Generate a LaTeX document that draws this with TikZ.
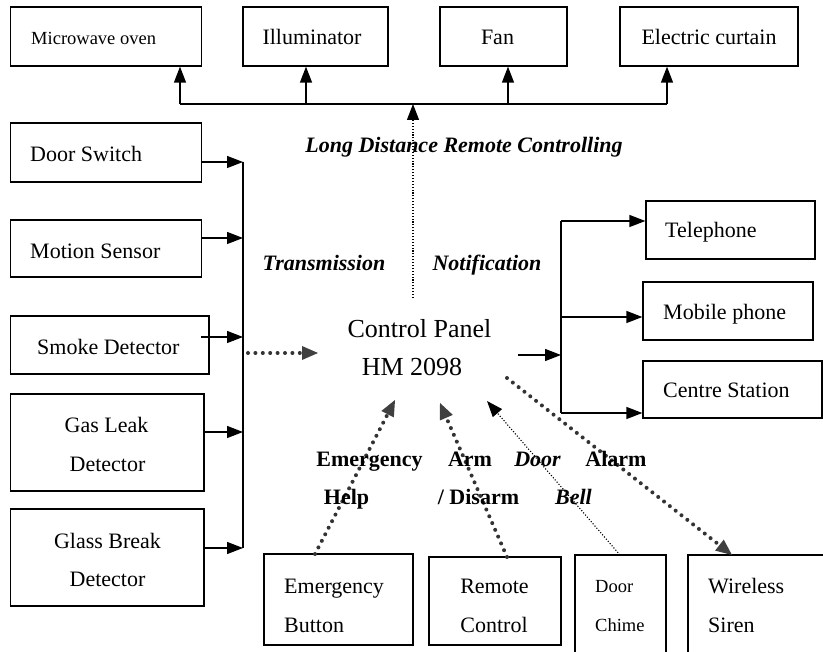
\documentclass[tikz,border=0pt]{standalone}
\usepackage{fontspec}
\setmainfont{Liberation Serif}
\usetikzlibrary{arrows.meta}
\begin{document}
\begin{tikzpicture}[x=1pt,y=-1pt,
  bx/.style={draw, line width=1.3pt, inner sep=0pt},
  t/.style={font=\fontsize{22}{26}\selectfont, inner sep=0pt},
  ts/.style={font=\fontsize{18.5}{22}\selectfont, inner sep=0pt},
  tb/.style={font=\fontsize{22}{26}\selectfont\bfseries, inner sep=0pt},
  tbi/.style={font=\fontsize{22}{26}\selectfont\bfseries\itshape, inner sep=0pt},
  tc/.style={font=\fontsize{26}{30}\selectfont, inner sep=0pt},
  ln/.style={line width=1.3pt},
  arr/.style={line width=1.3pt, -{Triangle[length=16pt,width=12pt]}},
  thindot/.style={line width=1.1pt, dash pattern=on 1.1pt off 1.8pt, -{Triangle[length=16pt,width=12pt]}},
  thickdot/.style={line width=4pt, line cap=round, dash pattern=on 0pt off 7.4pt, draw=black!80,
     -{Triangle[length=16pt,width=14pt,fill=black!75,line width=0pt]}}
]
\clip (0,0) rectangle (823,652);
\fill[white] (0,0) rectangle (823,652);

% ---------- top row ----------
\node[bx, minimum width=191pt, minimum height=59pt] (micro) at (106.2,36.5) {};
\node[bx, minimum width=145pt, minimum height=59pt] (illum) at (315.5,36.5) {};
\node[bx, minimum width=127pt, minimum height=59pt] (fan) at (503.5,36.5) {};
\node[bx, minimum width=178pt, minimum height=59pt] (curt) at (709,36.5) {};
\node[ts, anchor=base west] (tmicro) at (31,44.3) {Microwave oven};
\node[t, anchor=base] (tillum) at (312,44.5) {Illuminator};
\node[t, anchor=base] (tfan) at (497.5,44.5) {Fan};
\node[t, anchor=base] (tcurt) at (709,45) {Electric curtain};

\coordinate (j1) at (180,104);
\coordinate (j2) at (306,104);
\coordinate (j3) at (508,104);
\coordinate (j4) at (667,104);
\coordinate (jc) at (413,104);
\draw[ln] (j1) -- (j4);
\draw[arr] (j1) -- (j1 |- micro.south);
\draw[arr] (j2) -- (j2 |- illum.south);
\draw[arr] (j3) -- (j3 |- fan.south);
\draw[arr] (j4) -- (j4 |- curt.south);
\coordinate (cptop) at (413,298);
\draw[thindot] (cptop) -- (jc);
\node[tbi, anchor=base] (tlong) at (464,152.7) {Long Distance Remote Controlling};

% ---------- left column ----------
\node[bx, minimum width=191pt, minimum height=59pt] (door) at (106.2,152.5) {};
\node[bx, minimum width=191pt, minimum height=57pt] (motion) at (106.2,248.5) {};
\node[bx, minimum width=198.3pt, minimum height=58pt] (smoke) at (109.85,345) {};
\node[bx, minimum width=193.3pt, minimum height=97pt] (gas) at (107.35,442.5) {};
\node[bx, minimum width=193.3pt, minimum height=97pt] (glass) at (107.35,557.5) {};
\node[t, anchor=base west] (tdoor) at (30,161.7) {Door Switch};
\node[t, anchor=base west] (tmotion) at (30,258.3) {Motion Sensor};
\node[t, anchor=base west] (tsmoke) at (37,355) {Smoke Detector};
\node[t, anchor=base] (tgas1) at (106.5,432.7) {Gas Leak};
\node[t, anchor=base] (tgas2) at (107.5,471.7) {Detector};
\node[t, anchor=base] (tglass1) at (107.5,548.3) {Glass Break};
\node[t, anchor=base] (tglass2) at (107.5,586.7) {Detector};

\coordinate (b1) at (243,162);
\coordinate (b2) at (243,238);
\coordinate (b3) at (243,337);
\coordinate (b4) at (243,432);
\coordinate (b5) at (243,548);
\coordinate (s3) at (201,337);
\draw[ln] (b1) -- (b5);
\draw[arr] (door.east |- b1) -- (b1);
\draw[arr] (motion.east |- b2) -- (b2);
\draw[arr] (s3) -- (b3);
\draw[arr] (gas.east |- b4) -- (b4);
\draw[arr] (glass.east |- b5) -- (b5);

\coordinate (dl1) at (248,353);
\coordinate (dl2) at (318,353);
\draw[thickdot] (dl1) -- (dl2);
\node[tbi, anchor=base] (ttrans) at (324,270.7) {Transmission};
\node[tbi, anchor=base] (tnotif) at (487,270.7) {Notification};

% ---------- control panel ----------
\node[tc, anchor=base] (cp1) at (419.5,337.3) {Control Panel};
\node[tc, anchor=base] (cp2) at (412,375.7) {HM 2098};

% ---------- right side ----------
\node[bx, minimum width=169pt, minimum height=58pt] (tel) at (730.5,230) {};
\node[bx, minimum width=170pt, minimum height=58pt] (mob) at (728,311) {};
\node[bx, minimum width=179pt, minimum height=57pt] (cen) at (732.5,389.5) {};
\node[t, anchor=base west] (ttel) at (665,237.7) {Telephone};
\node[t, anchor=base west] (tmob) at (663,319.3) {Mobile phone};
\node[t, anchor=base west] (tcen) at (663,397.3) {Centre Station};

\coordinate (r1) at (561,221);
\coordinate (r2) at (561,317);
\coordinate (r3) at (561,413);
\coordinate (rin) at (561,355);
\coordinate (cpout) at (518,355);
\draw[ln] (r1) -- (r3);
\draw[arr] (r1) -- (tel.west |- r1);
\draw[arr] (r2) -- (mob.west |- r2);
\draw[arr] (r3) -- (cen.west |- r3);
\draw[arr] (cpout) -- (rin);

% ---------- bottom ----------
\node[bx, minimum width=149pt, minimum height=91pt] (emb) at (338.5,599.5) {};
\node[bx, minimum width=132pt, minimum height=88pt] (rem) at (495,601) {};
\node[bx, minimum width=91pt, minimum height=115pt] (chime) at (620.5,612.5) {};
\node[bx, minimum width=142pt, minimum height=115pt] (siren) at (759,612.5) {};
\node[t, anchor=base west] (temb1) at (284,594) {Emergency};
\node[t, anchor=base west] (temb2) at (284,632.3) {Button};
\node[t, anchor=base] (trem1) at (494.5,594) {Remote};
\node[t, anchor=base] (trem2) at (494,632.3) {Control};
\node[ts, anchor=base west] (tch1) at (595,592.7) {Door};
\node[ts, anchor=base west] (tch2) at (595,631) {Chime};
\node[t, anchor=base west] (tsir1) at (708,593.3) {Wireless};
\node[t, anchor=base west] (tsir2) at (708,632.3) {Siren};

\coordinate (e0) at (315,554);
\coordinate (e1) at (395,400);
\coordinate (a0) at (507,557);
\coordinate (a1) at (440,403);
\coordinate (d0) at (620,555);
\coordinate (d1) at (487,401);
\coordinate (al0) at (507,378);
\coordinate (al1) at (732,555);
\draw[thickdot] (e0) -- (e1);
\draw[thickdot] (a0) -- (a1);
\draw[thindot] (d0) -- (d1);
\draw[thickdot] (al0) -- (al1);

\node[tb, anchor=base] (lemer) at (369.5,466.7) {Emergency};
\node[tb, anchor=base] (lhelp) at (346.5,505) {Help};
\node[tb, anchor=base] (larm) at (470,466.7) {Arm};
\node[tb, anchor=base] (ldis) at (478.5,505) {/ Disarm};
\node[tbi, anchor=base] (ldoor) at (537.5,466.7) {Door};
\node[tbi, anchor=base] (lbell) at (573.5,505) {Bell};
\node[tb, anchor=base] (lalarm) at (616,466.7) {Alarm};
\end{tikzpicture}
\end{document}
